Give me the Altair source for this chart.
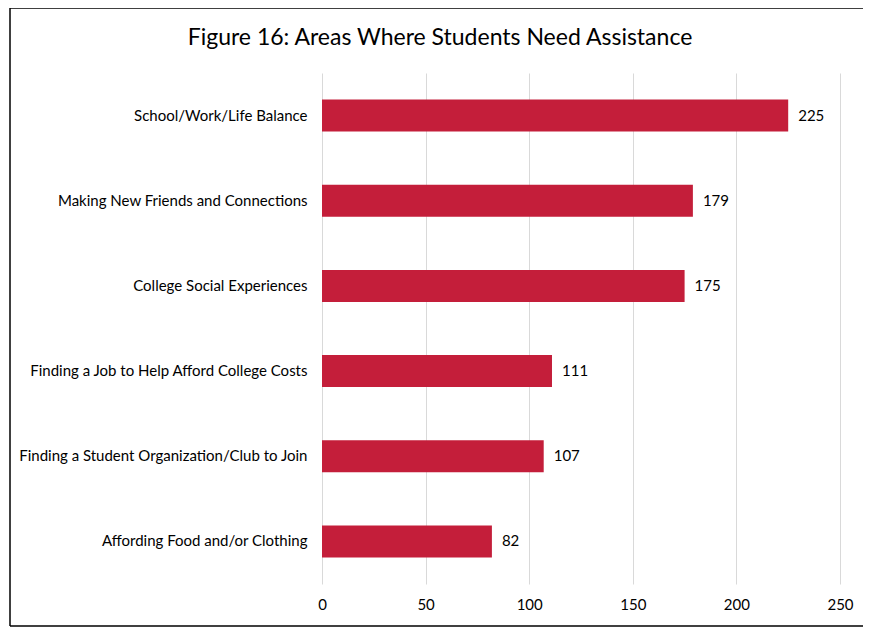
import altair as alt
import pandas as pd

categories = [
    "School/Work/Life Balance",
    "Making New Friends and Connections",
    "College Social Experiences",
    "Finding a Job to Help Afford College Costs",
    "Finding a Student Organization/Club to Join",
    "Affording Food and/or Clothing",
]
values = [225, 179, 175, 111, 107, 82]
x_ticks = [0, 50, 100, 150, 200, 250]
title_text = "Figure 16: Areas Where Students Need Assistance"

df = pd.DataFrame({"category": categories, "value": values})

FONT = "Lato"
BAR = "#C41E3A"
FS = 15

y_enc = alt.Y(
    "category:N",
    sort=categories,
    title=None,
    scale=alt.Scale(paddingInner=0.625, paddingOuter=0.3125),
    axis=alt.Axis(domain=False, ticks=False, labelPadding=15, labelFontSize=FS,
                  labelFont=FONT, labelColor="#000000", labelLimit=400),
)
x_enc = alt.X(
    "value:Q",
    title=None,
    scale=alt.Scale(domain=[0, 250], nice=False),
    axis=alt.Axis(values=x_ticks, grid=True, gridColor="#d9d9d9", domain=False,
                  ticks=False, labelPadding=13, labelFontSize=FS, labelFont=FONT,
                  labelColor="#000000", labelFlush=False),
)

base = alt.Chart(df)
bars = base.mark_bar(color=BAR).encode(x=x_enc, y=y_enc)
labels = base.mark_text(align="left", baseline="middle", dx=10, fontSize=FS,
                        font=FONT, color="#000000").encode(
    x="value:Q", y=alt.Y("category:N", sort=categories), text="value:Q")

one = pd.DataFrame({"a": [0]})
frame_style = dict(color="#000000", strokeWidth=1.5)
left_border = alt.Chart(one).mark_rule(**frame_style).encode(
    x=alt.value(-312), y=alt.value(-65), y2=alt.value(553))
top_border = alt.Chart(one).mark_rule(**frame_style).encode(
    x=alt.value(-312), x2=alt.value(560), y=alt.value(-65))
bottom_border = alt.Chart(one).mark_rule(**frame_style).encode(
    x=alt.value(-312), x2=alt.value(560), y=alt.value(553))
title = alt.Chart(one).mark_text(fontSize=23, font=FONT, color="#000000",
                                 align="center", baseline="middle").encode(
    x=alt.value(118), y=alt.value(-35), text=alt.value(title_text))

chart = alt.layer(bars, labels, left_border, top_border, bottom_border, title).properties(
    width=518,
    height=511,
    autosize=alt.AutoSizeParams(type="none"),
    padding={"left": 314, "top": 65, "right": 23, "bottom": 44},
).configure_view(stroke=None)

chart.save("out.html", embed_options={"renderer": "svg", "actions": False})
